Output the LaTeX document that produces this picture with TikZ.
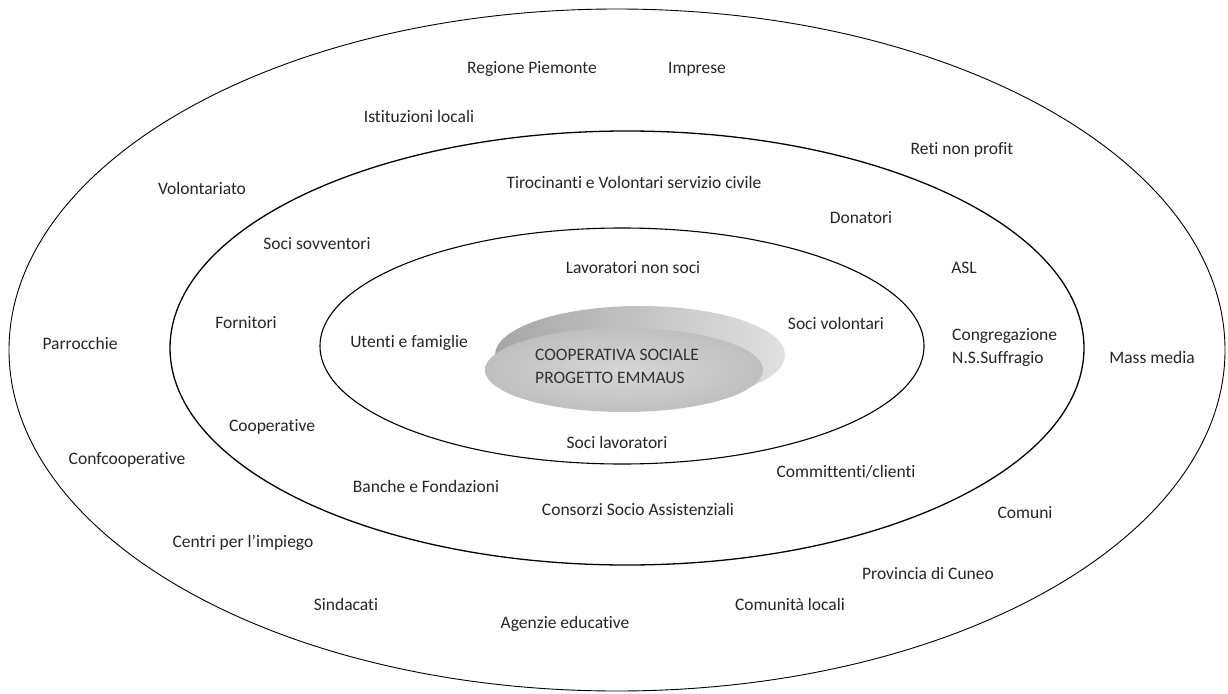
\documentclass[tikz,border=0pt]{standalone}
\usepackage{fontspec}
\setmainfont{Carlito}[RawFeature={-liga;-clig;-calt;-dlig}]
\begin{document}
\begin{tikzpicture}[x=1pt,y=-1pt,
  ring/.style={draw=black,line width=1.1pt},
  lbl/.style={font=\fontsize{17.5}{20}\selectfont,inner sep=0pt,text=black!85}]
\useasboundingbox[fill=white] (0,0) rectangle (1228,693);
% rings
\draw[ring,line width=0.9pt] (617,350) ellipse [x radius=608,y radius=341];
\draw[ring,line width=1.3pt] (627,348) ellipse [x radius=457,y radius=217];
\draw[ring] (622,346) ellipse [x radius=302,y radius=118];
% central disc
\shade[left color=black!35,right color=black!12] (640,355) ellipse [x radius=145,y radius=49];
\shade[inner color=black!16,outer color=black!25] (624,370) ellipse [x radius=139,y radius=42];
\node[lbl,align=left,anchor=west,text=black!80] (coop) at (535,366) {COOPERATIVA SOCIALE\\[3pt]PROGETTO EMMAUS};
% inner ring labels
\node[lbl] (lav) at (633,268) {Lavoratori non soci};
\node[lbl] (ute) at (409,343) {Utenti e famiglie};
\node[lbl] (vol) at (836,323) {Soci volontari};
\node[lbl] (slav) at (617,442) {Soci lavoratori};
% middle ring labels
\node[lbl] (tir) at (634,182) {Tirocinanti e Volontari servizio civile};
\node[lbl] (don) at (861,218) {Donatori};
\node[lbl] (sov) at (317,244) {Soci sovventori};
\node[lbl] (asl) at (964,268) {ASL};
\node[lbl] (for) at (246,323) {Fornitori};
\node[lbl,align=left,anchor=west] (cong) at (952,347) {Congregazione\\[3pt]N.S.Suffragio};
\node[lbl] (cop) at (272,427) {Cooperative};
\node[lbl] (com) at (846,472) {Committenti/clienti};
\node[lbl] (ban) at (426,486) {Banche e Fondazioni};
\node[lbl] (cons) at (638,509) {Consorzi Socio Assistenziali};
% outer ring labels
\node[lbl] (reg) at (532,69) {Regione Piemonte};
\node[lbl] (imp) at (697,69) {Imprese};
\node[lbl] (ist) at (419,116) {Istituzioni locali};
\node[lbl] (reti) at (962,150) {Reti non profit};
\node[lbl] (volt) at (202,188) {Volontariato};
\node[lbl] (par) at (80,343) {Parrocchie};
\node[lbl] (mass) at (1152,357) {Mass media};
\node[lbl] (conf) at (127,460) {Confcooperative};
\node[lbl] (comu) at (1025,513) {Comuni};
\node[lbl] (cen) at (243,543) {Centri per l’impiego};
\node[lbl] (prov) at (928,573) {Provincia di Cuneo};
\node[lbl] (sind) at (346,604) {Sindacati};
\node[lbl] (cloc) at (790,604) {Comunità locali};
\node[lbl] (agen) at (565,624) {Agenzie educative};
\end{tikzpicture}
\end{document}
